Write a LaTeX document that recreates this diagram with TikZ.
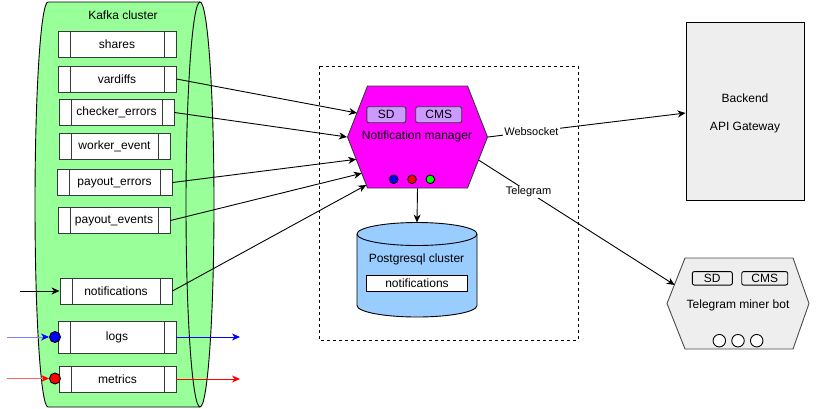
\documentclass[tikz,border=0pt]{standalone}
\usepackage{fontspec}
\setmainfont{Liberation Sans}
\usetikzlibrary{arrows.meta,calc}
\definecolor{kgreen}{HTML}{99FF99}
\definecolor{pgblue}{HTML}{99CCFF}
\definecolor{sdpurple}{HTML}{CC99FF}
\definecolor{lgray}{HTML}{EEEEEE}
\definecolor{dstroke}{HTML}{36393D}
\definecolor{nmmag}{HTML}{FF00FF}
\definecolor{pblue}{HTML}{0000FF}
\definecolor{pred}{HTML}{FF0000}
\definecolor{pgreen}{HTML}{00FF00}
\definecolor{lblue}{HTML}{7F7FFF}
\definecolor{lred}{HTML}{FF6666}
\begin{document}
\begin{tikzpicture}[x=1pt,y=-1pt,font=\fontsize{12}{14}\selectfont,line width=0.9pt,
  topic/.style={draw=dstroke, fill=white, minimum height=26pt, inner sep=0pt,
    path picture={
      \draw[dstroke] ([xshift=12pt]path picture bounding box.north west) -- ([xshift=12pt]path picture bounding box.south west);
      \draw[dstroke] ([xshift=-12pt]path picture bounding box.north east) -- ([xshift=-12pt]path picture bounding box.south east);
    }},
  arr/.style={-{Stealth[length=8pt,width=7pt,inset=2.5pt]}},
  tag/.style={draw=dstroke, rounded corners=2pt, minimum height=16pt, inner sep=0pt},
  dot/.style={circle, draw=black, inner sep=0pt, minimum size=8.6pt},
  elabel/.style={fill=white, inner sep=1pt, font=\fontsize{11}{13}\selectfont}]

\fill[white] (0,0) rectangle (818,408);
\useasboundingbox (0,0) rectangle (818,408);

% Kafka cylinder
\filldraw[fill=kgreen, draw=black] (48,2) -- (200,2)
  .. controls (207.7,2) and (214,92.7) .. (214,204.5)
  .. controls (214,316.3) and (207.7,407) .. (200,407)
  -- (48,407)
  .. controls (40.8,407) and (35,316.3) .. (35,204.5)
  .. controls (35,92.7) and (40.8,2) .. (48,2) -- cycle;
\draw[black] (200,2) .. controls (192.3,2) and (186,92.7) .. (186,204.5)
  .. controls (186,316.3) and (192.3,407) .. (200,407);
\node (ktitle) at (123,15) {Kafka cluster};

% topics
\node[topic, minimum width=118pt] (shares) at (117,44) {shares};
\node[topic, minimum width=118pt] (vardiffs) at (117,79) {vardiffs};
\node[topic, minimum width=115pt] (checker) at (116.5,112.5) {checker\_errors};
\node[topic, minimum width=111pt] (worker) at (114.5,146) {worker\_event};
\node[topic, minimum width=115pt] (perr) at (114.5,182.5) {payout\_errors};
\node[topic, minimum width=112pt] (pev) at (114,220.5) {payout\_events};
\node[topic, minimum width=112pt] (notif) at (116,291) {notifications};
\node[topic, minimum width=118pt, minimum height=32pt] (logs) at (117,337) {logs};
\node[topic, minimum width=117pt] (metrics) at (117.5,379) {metrics};

\node[dot, fill=pblue, minimum size=11pt] (bdot) at (55,337) {};
\node[dot, fill=pred, minimum size=11pt] (rdot) at (55,378.5) {};

\coordinate (nin) at (20,291);
\coordinate (bin) at (7,337);
\coordinate (bout) at (240,337);
\coordinate (rin) at (7,378.5);
\coordinate (rout) at (240,379);

\draw[arr] (nin) -- (notif.west);
\draw[lblue, -{Stealth[length=8pt,width=7pt,inset=2.5pt,color=pblue]}] (bin) -- (bdot.west);
\draw[lred, -{Stealth[length=8pt,width=7pt,inset=2.5pt,color=pred]}] (rin) -- (rdot.west);
\draw[pblue, arr] (logs.east) -- (bout);
\draw[pred, arr] (metrics.east) -- (rout);

% dashed frame
\draw[black, dash pattern=on 3pt off 3pt] (319,66) rectangle (578,340);

% Notification manager hexagon
\filldraw[fill=nmmag, draw=dstroke] (367.5,86) -- (467.5,86) -- (487.5,137) -- (467.5,188) -- (367.5,188) -- (347.5,137) -- cycle;
\node[minimum width=140pt, minimum height=102pt, inner sep=0pt] (nm) at (417.5,137) {};
\node (nmtext) at (417,136) {Notification manager};
\node[tag, fill=sdpurple, minimum width=39pt] (sd1) at (386.3,114.7) {SD};
\node[tag, fill=sdpurple, minimum width=46pt] (cms1) at (438.7,114.7) {CMS};
\node[dot, fill=pblue] (d1) at (393.7,179.3) {};
\node[dot, fill=pred] (d2) at (412,179.3) {};
\node[dot, fill=pgreen] (d3) at (430.3,179.3) {};

\coordinate (nmA) at (357,113);
\coordinate (nmC) at (356.2,159.3);
\coordinate (nmD) at (361.7,173.3);
\coordinate (nmE) at (366.3,185);
\coordinate (nmT) at (478.5,160);

% Postgres cylinder
\filldraw[fill=pgblue, draw=black] (357,234) -- (357,305.5)
  .. controls (357,311.85) and (383.9,317) .. (417,317)
  .. controls (450.1,317) and (477,311.85) .. (477,305.5)
  -- (477,234)
  .. controls (477,227.65) and (450.1,222.5) .. (417,222.5)
  .. controls (383.9,222.5) and (357,227.65) .. (357,234) -- cycle;
\draw[black] (357,234) .. controls (357,240.35) and (383.9,245.5) .. (417,245.5)
  .. controls (450.1,245.5) and (477,240.35) .. (477,234);
\coordinate (pgtop) at (417,222.5);
\node (pgtext) at (416.5,259.5) {Postgresql cluster};
\node[draw=black, fill=white, minimum width=101pt, minimum height=16pt, inner sep=0pt] (pgnotif) at (417,283) {notifications};

% Backend
\node[draw=black, fill=lgray, minimum width=118pt, minimum height=178pt, inner sep=0pt] (be) at (745,111) {};
\node[align=center, inner sep=0pt] (betext) at (745,113) {Backend\\[14pt]API Gateway};

% Telegram bot
\filldraw[fill=lgray, draw=black!70] (685,258) -- (793,258) -- (809,303.5) -- (793,349) -- (685,349) -- (667,303.5) -- cycle;
\node (bottext) at (738,305) {Telegram miner bot};
\node[tag, fill=lgray, draw=black, minimum width=40pt, minimum height=13.5pt] (sd2) at (712.3,278.3) {SD};
\node[tag, fill=lgray, draw=black, minimum width=46pt, minimum height=13.5pt] (cms2) at (764.7,278.3) {CMS};
\node[dot, fill=white, minimum size=12.5pt] (c1) at (719.3,340.7) {};
\node[dot, fill=white, minimum size=12.5pt] (c2) at (738,340.7) {};
\node[dot, fill=white, minimum size=12.5pt] (c3) at (756.7,340.7) {};
\coordinate (tgin) at (674.7,285);

% connectors to NM
\draw[arr] (vardiffs.east) -- (nmA);
\draw[arr] (checker.east) -- (nm.west);
\draw[arr] (perr.east) -- (nmC);
\draw[arr] (pev.east) -- (nmD);
\draw[arr] (notif.east) -- (nmE);
\draw[arr] (nm.south) -- (pgtop);
\draw[arr] (nm.east) -- node[elabel, pos=0.22] {Websocket} ([yshift=-2pt]be.west);
\draw[arr] (nmT) -- node[elabel, pos=0.255] {Telegram} (tgin);

\end{tikzpicture}
\end{document}
